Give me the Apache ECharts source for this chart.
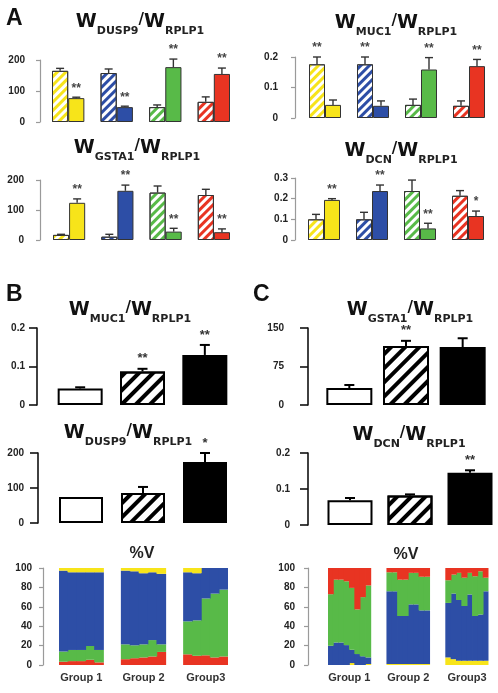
<!DOCTYPE html>
<html><head><meta charset="utf-8">
<script src="https://cdn.jsdelivr.net/npm/echarts@6/dist/echarts.min.js"></script>
<style>html,body{margin:0;padding:0;background:#fff}#c{width:498px;height:693px}</style>
</head><body><div id="c"></div>
<script>
// ================= DATA =================
// Panel A: four cell lines, each with control (hatched) and treated (solid) bars
const cellLines = ['yellow', 'blue', 'green', 'red'];
const catsA = ['Y-ctrl', 'Y-trt', 'B-ctrl', 'B-trt', 'G-ctrl', 'G-trt', 'R-ctrl', 'R-trt'];
const refGene = 'RPLP1';

const dusp9A    = [165, 77, 158, 48, 48, 177, 65, 155];
const dusp9AErr = [8, 3, 13, 3, 7, 26, 16, 19];
const dusp9ASig = ['', '**', '', '**', '', '**', '', '**'];

const muc1A     = [0.176, 0.043, 0.176, 0.040, 0.043, 0.159, 0.040, 0.170];
const muc1AErr  = [0.024, 0.016, 0.024, 0.016, 0.019, 0.039, 0.016, 0.022];
const muc1ASig  = ['**', '', '**', '', '', '**', '', '**'];

const gsta1A    = [17, 124, 11, 164, 158, 28, 150, 26];
const gsta1AErr = [2, 13, 8, 19, 22, 11, 19, 11];
const gsta1ASig = ['', '**', '', '**', '', '**', '', '**'];

const dcnA      = [0.100, 0.194, 0.100, 0.237, 0.237, 0.056, 0.214, 0.116];
const dcnAErr   = [0.024, 0.006, 0.034, 0.029, 0.053, 0.025, 0.025, 0.024];
const dcnASig   = ['', '**', '', '**', '', '**', '', '*'];

// Panels B / C: three groups (white, hatched, black)
const groupsBC = ['Group 1', 'Group 2', 'Group 3'];
const muc1B     = [0.043, 0.087, 0.130];
const muc1BErr  = [0.003, 0.007, 0.026];
const muc1BSig  = ['', '**', '**'];
const dusp9B    = [74, 86, 174];
const dusp9BErr = [0, 17, 26];
const dusp9BSig = ['', '', '*'];
const gsta1C    = [33, 115, 113];
const gsta1CErr = [6, 10, 17];
const gsta1CSig = ['', '**', ''];
const dcnC      = [0.069, 0.082, 0.145];
const dcnCErr   = [0.006, 0.003, 0.007];
const dcnCSig   = ['', '', '**'];

// %V stacked composition, per sample (per group arrays)
const groupLabelsV = ['Group 1', 'Group 2', 'Group3'];
// Left (panel B) — 5 samples per group, bottom→top: red, green, blue, yellow
const vLeftRed    = [[3.4, 4, 4, 5.4, 2.7], [6, 7, 7.8, 8.8, 13.5], [11, 9.5, 10, 7.8, 8.8]];
const vLeftGreen  = [[10.5, 11.5, 11.5, 14.2, 12.8], [15.3, 13.3, 13.5, 16.9, 7.8], [34, 36.5, 58.6, 65.8, 68.9]];
const vLeftBlue   = [[83.4, 80.1, 80.1, 76, 80.1], [76, 76.3, 73.3, 69.9, 72.7], [50.6, 48.6, 31.4, 26.4, 22.3]];
const vLeftYellow = [[2.7, 4.4, 4.4, 4.4, 4.4], [2.7, 3.4, 5.4, 4.4, 6], [4.4, 5.4, 0, 0, 0]];
// Right (panel C) — 8 samples per group, bottom→top: yellow, blue, green, red
const vRightYellow = [[0, 0, 0, 0, 2, 0, 0, 1], [1, 1, 1, 1, 1, 1, 1, 1], [7.8, 6, 4.4, 4.4, 4.4, 4.4, 4.4, 4.4]];
const vRightBlue   = [[19.8, 23.2, 23.2, 20.5, 13.7, 11.3, 9, 6.8], [75, 75, 49.5, 49.5, 61.5, 61.5, 55.3, 55.3], [56.2, 67.7, 62.6, 56.4, 68.3, 46.1, 47.6, 71.6]];
const vRightGreen  = [[53.2, 64.8, 64.8, 65.8, 63.8, 46, 61, 74.2], [19.6, 19.6, 37.5, 37.5, 32.5, 32.5, 34.7, 34.7], [23.4, 19.5, 28, 29.2, 22.3, 41, 44.6, 14]];
const vRightRed    = [[27, 12, 12, 13.7, 20.5, 42.7, 30, 18], [4.4, 4.4, 12, 12, 5, 5, 9, 9], [12.6, 6.8, 5, 10, 5, 8.5, 3.4, 10]];

// ================= STYLE =================
const COLORS = {yellow: '#f7e41a', blue: '#2d4ea6', green: '#58ba48', red: '#e83422'};
const FONT = 'Liberation Sans';
const richTitle = {
  w:  {fontFamily: 'DejaVu Sans', fontWeight: 'bold', fontSize: 19, lineHeight: 22, verticalAlign: 'top', color: '#111'},
  s:  {fontFamily: 'DejaVu Sans', fontWeight: 'bold', fontSize: 11, lineHeight: 12, padding: [13, 0, 0, 0], verticalAlign: 'top', color: '#222'},
  sl: {fontFamily: 'DejaVu Sans', fontWeight: 'bold', fontSize: 15, lineHeight: 22, verticalAlign: 'top', color: '#111'}
};
function geneTitle(gene) { return '{w|W}{s|' + gene + '}{sl|/}{w|W}{s|' + refGene + '}'; }

const option = {animation: false, backgroundColor: '#fff', title: [], grid: [], xAxis: [], yAxis: [], series: []};

function addTitle(text, left, top, extra) {
  option.title.push(Object.assign({text: text, left: left, top: top, padding: 0, textAlign: 'center',
    textStyle: {rich: richTitle}}, extra || {}));
}
function addLetter(t, left, top) {
  option.title.push({text: t, left: left, top: top, padding: 0,
    textStyle: {fontFamily: FONT, fontWeight: 'bold', fontSize: 23, color: '#111'}});
}

function addGrid(rect, cats, yCfg, xCfg) {
  const i = option.grid.length;
  option.grid.push(Object.assign({outerBoundsMode: 'none', containLabel: false}, rect));
  option.xAxis.push(Object.assign({type: 'category', gridIndex: i, data: cats,
    axisLine: {show: false}, axisTick: {show: false}, axisLabel: {show: false}, splitLine: {show: false}}, xCfg || {}));
  option.yAxis.push(Object.assign({type: 'value', gridIndex: i, splitLine: {show: false}}, yCfg));
  return i;
}

function yAxisCfg(max, interval, offset, margin, heavy) {
  return {
    min: 0, max: max, interval: interval, offset: offset,
    axisLine: {show: true, lineStyle: {color: heavy ? '#111' : '#9a9a9a', width: heavy ? 1.6 : 1.2}},
    axisTick: {show: true, length: heavy ? 8 : 4, lineStyle: {color: heavy ? '#111' : '#9a9a9a', width: heavy ? 1.6 : 1.2}},
    axisLabel: {margin: margin, color: '#222', fontFamily: FONT, fontWeight: 'bold', fontSize: 10}
  };
}

function errSeries(gi, data, sigs, o) {
  return {
    type: 'custom', xAxisIndex: gi, yAxisIndex: gi, z: 5, data: data,
    renderItem: function (params, api) {
      const x = api.value(0), v = api.value(1), e = api.value(2);
      const p0 = api.coord([x, v]);
      const p1 = api.coord([x, v + e]);
      const ch = [];
      if (e > 0) {
        ch.push({type: 'line', shape: {x1: p0[0], y1: p0[1], x2: p1[0], y2: p1[1]}, style: {stroke: o.color, lineWidth: o.lw}});
        ch.push({type: 'line', shape: {x1: p1[0] - o.cap / 2, y1: p1[1], x2: p1[0] + o.cap / 2, y2: p1[1]}, style: {stroke: o.color, lineWidth: o.lw}});
      }
      const s = sigs[params.dataIndex];
      if (s) ch.push({type: 'text', x: p1[0], y: p1[1] - o.sigGap,
        style: {text: s, align: 'center', verticalAlign: 'middle', font: o.sigFont, fill: o.sigColor}});
      return {type: 'group', children: ch};
    }
  };
}

// ---- Panel A chart ----
function panelA(rect, vals, errs, sigs, max, interval, offset, margin) {
  const cats = [], barData = [], errData = [];
  catsA.forEach(function (c, k) {
    if (k > 0 && k % 2 === 0) { cats.push('gap' + k); barData.push('-'); }
    const pos = cats.length;
    cats.push(c);
    const col = COLORS[cellLines[Math.floor(k / 2)]];
    const hatched = k % 2 === 0;
    barData.push({value: vals[k], itemStyle: hatched
      ? {color: '#fff', decal: {symbol: 'rect', symbolSize: 1, dashArrayX: [1, 0], dashArrayY: [2.2, 2.8], rotation: -Math.PI / 4, color: col}}
      : {color: col}});
    errData.push([pos, vals[k], errs[k]]);
  });
  const gi = addGrid(rect, cats, yAxisCfg(max, interval, offset, margin, false));
  option.series.push({type: 'bar', xAxisIndex: gi, yAxisIndex: gi, barCategoryGap: '0%', data: barData,
    itemStyle: {borderColor: '#333', borderWidth: 1}});
  option.series.push(errSeries(gi, errData, sigs, {color: '#333', lw: 1.4, cap: 8, sigGap: 9, sigFont: 'bold 12px ' + FONT, sigColor: '#444'}));
}

// ---- Panel B / C chart ----
function panelBC(rect, vals, errs, sigs, max, interval, offset, margin, barWidth) {
  const styles = [
    {color: '#fff'},
    {color: '#fff', decal: {symbol: 'rect', symbolSize: 1, dashArrayX: [1, 0], dashArrayY: [3.6, 5.4], rotation: -Math.PI / 4, color: '#000'}},
    {color: '#000'}
  ];
  const barData = vals.map(function (v, k) { return {value: v, itemStyle: styles[k]}; });
  const errData = vals.map(function (v, k) { return [k, v, errs[k]]; });
  const gi = addGrid(rect, groupsBC, yAxisCfg(max, interval, offset, margin, true));
  option.series.push({type: 'bar', xAxisIndex: gi, yAxisIndex: gi, barWidth: barWidth, data: barData,
    itemStyle: {borderColor: '#000', borderWidth: 2}});
  option.series.push(errSeries(gi, errData, sigs, {color: '#000', lw: 2, cap: 10, sigGap: 10, sigFont: 'bold 13px ' + FONT, sigColor: '#333'}));
}

// ---- %V stacked chart ----
function panelV(rect, perGroup, gap, stacks, offset, margin, labelShift) {
  const cats = [], labelAt = {};
  const nG = groupLabelsV.length;
  for (let g = 0; g < nG; g++) {
    for (let s = 0; s < perGroup; s++) {
      if (s === Math.floor(perGroup / 2)) labelAt[cats.length] = groupLabelsV[g];
      cats.push('g' + g + 's' + s);
    }
    if (g < nG - 1) for (let q = 0; q < gap; q++) cats.push('gap' + g + '_' + q);
  }
  // slightly wider than one band so neighbouring columns overlap (no seams)
  const colW = rect.width / cats.length + 0.8;
  const gi = addGrid(rect, cats, yAxisCfg(100, 20, offset, margin, false), {
    axisLabel: {show: true, interval: 0, margin: 7,
      formatter: function (val, idx) { return labelAt[idx] ? '{g|' + labelAt[idx] + '}' : ''; },
      rich: {g: {fontFamily: FONT, fontWeight: 'bold', fontSize: 11, color: '#333', padding: labelShift}}}
  });
  stacks.forEach(function (st) {
    const data = [];
    for (let g = 0; g < nG; g++) {
      st.values[g].forEach(function (v) { data.push(v); });
      if (g < nG - 1) for (let q = 0; q < gap; q++) data.push('-');
    }
    option.series.push({type: 'bar', xAxisIndex: gi, yAxisIndex: gi, stack: 'v' + gi, barWidth: colW,
      data: data, itemStyle: {color: st.color}});
  });
}

// ================= BUILD =================
addLetter('A', 6, 7);
addLetter('B', 6, 283);
addLetter('C', 253, 283);

addTitle(geneTitle('DUSP9'), 140, 13);
addTitle(geneTitle('MUC1'), 396, 14);
addTitle(geneTitle('GSTA1'), 137, 139);
addTitle(geneTitle('DCN'), 401, 142);
addTitle(geneTitle('MUC1'), 130, 301);
addTitle(geneTitle('GSTA1'), 410, 301);
addTitle(geneTitle('DUSP9'), 128, 424);
addTitle(geneTitle('DCN'), 409, 426);
option.title.push({text: '%V', left: 142, top: 546, padding: 0, textAlign: 'center', textStyle: {fontFamily: FONT, fontWeight: 'bold', fontSize: 16, color: '#222'}});
option.title.push({text: '%V', left: 406, top: 547, padding: 0, textAlign: 'center', textStyle: {fontFamily: FONT, fontWeight: 'bold', fontSize: 16, color: '#222'}});

panelA({left: 52, top: 60, width: 178, height: 62}, dusp9A, dusp9AErr, dusp9ASig, 200, 100, 12, 15);
panelA({left: 309, top: 57, width: 176, height: 61}, muc1A, muc1AErr, muc1ASig, 0.2, 0.1, 14, 17);
panelA({left: 53, top: 180, width: 177, height: 60}, gsta1A, gsta1AErr, gsta1ASig, 200, 100, 13, 16);
panelA({left: 308, top: 178, width: 176, height: 62}, dcnA, dcnAErr, dcnASig, 0.3, 0.1, 13, 7);

panelBC({left: 49, top: 328, width: 187, height: 77}, muc1B, muc1BErr, muc1BSig, 0.2, 0.1, 12, 12, 45);
panelBC({left: 321, top: 328, width: 170, height: 77}, gsta1C, gsta1CErr, gsta1CSig, 150, 75, 13, 24, 46);
panelBC({left: 50, top: 453, width: 186, height: 70}, dusp9B, dusp9BErr, dusp9BSig, 200, 100, 12, 14, 44);
panelBC({left: 320, top: 453, width: 180, height: 72}, dcnC, dcnCErr, dcnCSig, 0.2, 0.1, 12, 18, 45);

panelV({left: 59, top: 568, width: 169, height: 97}, 5, 2, [
  {color: COLORS.red, values: vLeftRed},
  {color: COLORS.green, values: vLeftGreen},
  {color: COLORS.blue, values: vLeftBlue},
  {color: COLORS.yellow, values: vLeftYellow}
], 16, 11, [0, 0, 0, 0]);
panelV({left: 328, top: 568, width: 160.5, height: 97}, 8, 3, [
  {color: COLORS.yellow, values: vRightYellow},
  {color: COLORS.blue, values: vRightBlue},
  {color: COLORS.green, values: vRightGreen},
  {color: COLORS.red, values: vRightRed}
], 20, 13, [0, 5.35, 0, 0]);

const chart = echarts.init(document.getElementById('c'), null, {renderer: 'canvas'});
chart.setOption(option);
</script>
</body></html>
